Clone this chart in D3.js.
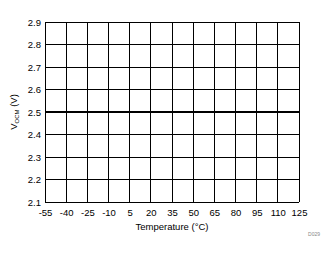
<!DOCTYPE html>
<html><head><meta charset="utf-8">
<script src="https://cdn.jsdelivr.net/npm/d3@7"></script>
<style>body{margin:0;background:#fff}svg{display:block;font-family:"Liberation Sans",Arial,sans-serif}</style>
</head><body><svg id="c" width="332" height="254"></svg>
<script>
const temps = [-55,-40,-25,-10,5,20,35,50,65,80,95,110,125];
const vocm  = [2.5,2.5,2.5,2.5,2.5,2.5,2.5,2.5,2.5,2.5,2.5,2.5,2.5];
const yTicks = [2.1,2.2,2.3,2.4,2.5,2.6,2.7,2.8,2.9];

const svg = d3.select("#c");
const m = {l:45,r:299,t:22,b:202};
const x = d3.scaleLinear().domain([-55,125]).range([m.l,m.r]);
const y = d3.scaleLinear().domain([2.1,2.9]).range([m.b,m.t]);

const g = svg.append("g");
g.selectAll("line.v").data(temps).enter().append("line")
  .attr("x1",d=>x(d)).attr("x2",d=>x(d)).attr("y1",m.t).attr("y2",m.b)
  .attr("stroke","#000").attr("stroke-width",1).attr("shape-rendering","crispEdges");
g.selectAll("line.h").data(yTicks).enter().append("line")
  .attr("y1",d=>y(d)).attr("y2",d=>y(d)).attr("x1",m.l).attr("x2",m.r)
  .attr("stroke","#000").attr("stroke-width",1).attr("shape-rendering","crispEdges");

svg.append("path").datum(temps.map((t,i)=>[t,vocm[i]]))
  .attr("d",d3.line().x(d=>x(d[0])).y(d=>y(d[1])))
  .attr("fill","none").attr("stroke","#000").attr("stroke-width",2.2);

const xa = svg.append("g").attr("transform",`translate(0,${m.b})`)
  .call(d3.axisBottom(x).tickValues(temps).tickSize(0).tickPadding(7).tickFormat(d=>String(d)));
xa.select(".domain").remove();
xa.selectAll("text").attr("font-size",9.5).attr("fill","#000").attr("font-family","Liberation Sans, Arial, sans-serif");

const ya = svg.append("g").attr("transform",`translate(${m.l},0)`)
  .call(d3.axisLeft(y).tickValues(yTicks).tickSize(0).tickPadding(4).tickFormat(d=>d.toFixed(1)));
ya.select(".domain").remove();
ya.selectAll("text").attr("font-size",9.5).attr("fill","#000").attr("font-family","Liberation Sans, Arial, sans-serif");

svg.append("text").attr("x",(m.l+m.r)/2).attr("y",230).attr("text-anchor","middle")
  .attr("font-size",9.5).text("Temperature (°C)");

const yl = svg.append("text").attr("transform",`translate(17,${(m.t+m.b)/2}) rotate(-90)`)
  .attr("text-anchor","middle").attr("font-size",9.5);
yl.append("tspan").text("V");
yl.append("tspan").attr("font-size",6).attr("dy",2).text("OCM");
yl.append("tspan").attr("dy",-2).text(" (V)");

svg.append("text").attr("x",320).attr("y",236).attr("text-anchor","end")
  .attr("font-size",5).attr("fill","#888").text("D029");
</script></body></html>
